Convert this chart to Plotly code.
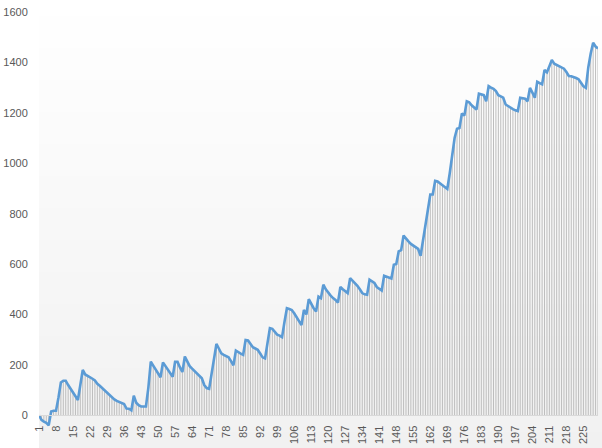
import plotly.graph_objects as go

values = [
    0, -18, -25, -30, -40, 15, 18, 18, 70, 130,
    137, 137, 120, 105, 90, 75, 61, 120, 180, 162,
    157, 152, 145, 138, 125, 117, 108, 98, 88, 80,
    71, 63, 57, 53, 51, 45, 27, 26, 20, 78,
    50, 40, 35, 34, 35, 110, 213, 197, 180, 165,
    151, 210, 195, 180, 165, 153, 212, 212, 190, 172,
    233, 212, 195, 185, 175, 165, 155, 147, 120, 108,
    105, 165, 230, 283, 265, 246, 240, 235, 230, 215,
    198, 257, 250, 245, 240, 299, 297, 285, 270, 265,
    260, 245, 230, 226, 290, 346, 343, 330, 320, 316,
    310, 370, 425, 422, 418, 405, 388, 372, 358, 418,
    400, 461, 440, 425, 412, 471, 465, 518, 500, 485,
    475, 465, 458, 447, 509, 500, 492, 485, 544, 535,
    525, 514, 500, 485, 480, 478, 538, 530, 525, 509,
    500, 495, 554, 550, 548, 543, 597, 600, 650, 655,
    713, 700, 690, 680, 673, 666, 660, 633, 690, 750,
    815, 876, 876, 930, 928, 920, 912, 905, 898, 960,
    1040, 1100, 1137, 1140, 1197, 1189, 1246, 1242, 1230, 1220,
    1213, 1276, 1272, 1270, 1246, 1306, 1300, 1295, 1286, 1270,
    1265, 1260, 1233, 1226, 1220, 1215, 1210, 1207, 1260, 1258,
    1256, 1246, 1299, 1280, 1260, 1323, 1318, 1313, 1370, 1361,
    1385, 1410, 1395, 1390, 1385, 1383, 1375, 1362, 1346, 1345,
    1343, 1338, 1333, 1320, 1305, 1299, 1380, 1435, 1478, 1463,
    1455,
]
categories = list(range(1, len(values) + 1))
x_tick_values = list(range(1, len(values) + 1, 7))
x_tick_labels = [str(v) for v in x_tick_values]
y_tick_values = [0, 200, 400, 600, 800, 1000, 1200, 1400, 1600]

W, H = 602, 448
ML, MR, MT, MB = 39, 4, 12, 21
y_min = -46.4
y_max = 1600
plot_h = H - MT - MB
zero_pos = (0 - y_min) / (y_max - y_min)

# background gradient (white top -> light grey bottom)
shapes = []
n_strips = 56
plot_w = W - ML - MR
x1_paper = (W - ML) / plot_w
for k in range(n_strips):
    py0 = k * H / n_strips
    py1 = (k + 1) * H / n_strips
    t = (k + 0.5) / n_strips
    c = round(255 - 14 * t)
    shapes.append(dict(
        type="rect", xref="paper", yref="paper",
        x0=0, x1=x1_paper,
        y0=(H - MB - py1) / plot_h, y1=(H - MB - py0) / plot_h,
        fillcolor=f"rgb({c},{c},{c})", line=dict(width=0), layer="below",
    ))

# drop lines from each point to the zero axis
drop_x, drop_y = [], []
for c, v in zip(categories, values):
    drop_x += [c, c, None]
    drop_y += [0, v, None]

fig = go.Figure()
fig.add_trace(go.Scatter(
    x=drop_x, y=drop_y, mode="lines",
    line=dict(color="#bdbdbd", width=1),
    hoverinfo="skip", showlegend=False,
))
fig.add_trace(go.Scatter(
    x=categories, y=values, mode="lines",
    line=dict(color="#5b9bd5", width=2.6),
    showlegend=False,
))

font = dict(family="Liberation Sans, Arial, sans-serif", size=11, color="#595959")
fig.update_layout(
    width=W, height=H,
    margin=dict(l=ML, r=MR, t=MT, b=MB, pad=0),
    paper_bgcolor="white", plot_bgcolor="rgba(0,0,0,0)",
    shapes=shapes, font=font,
    xaxis=dict(
        range=[1, len(values)], tickmode="array",
        tickvals=x_tick_values, ticktext=x_tick_labels, tickangle=-90,
        showgrid=False, zeroline=False, showline=True, linecolor="#d9d9d9", linewidth=1,
        ticks="outside", ticklen=5, tickcolor="rgba(0,0,0,0)",
        anchor="free", position=zero_pos, automargin=False, tickfont=font,
    ),
    yaxis=dict(
        range=[y_min, y_max], tickmode="array", tickvals=y_tick_values,
        showgrid=False, zeroline=False, showline=False,
        ticks="outside", ticklen=8, tickcolor="rgba(0,0,0,0)",
        automargin=False, tickfont=font,
    ),
)
fig.write_html("out.html", config={"displayModeBar": False},
               post_script="document.body.style.margin='0';")
